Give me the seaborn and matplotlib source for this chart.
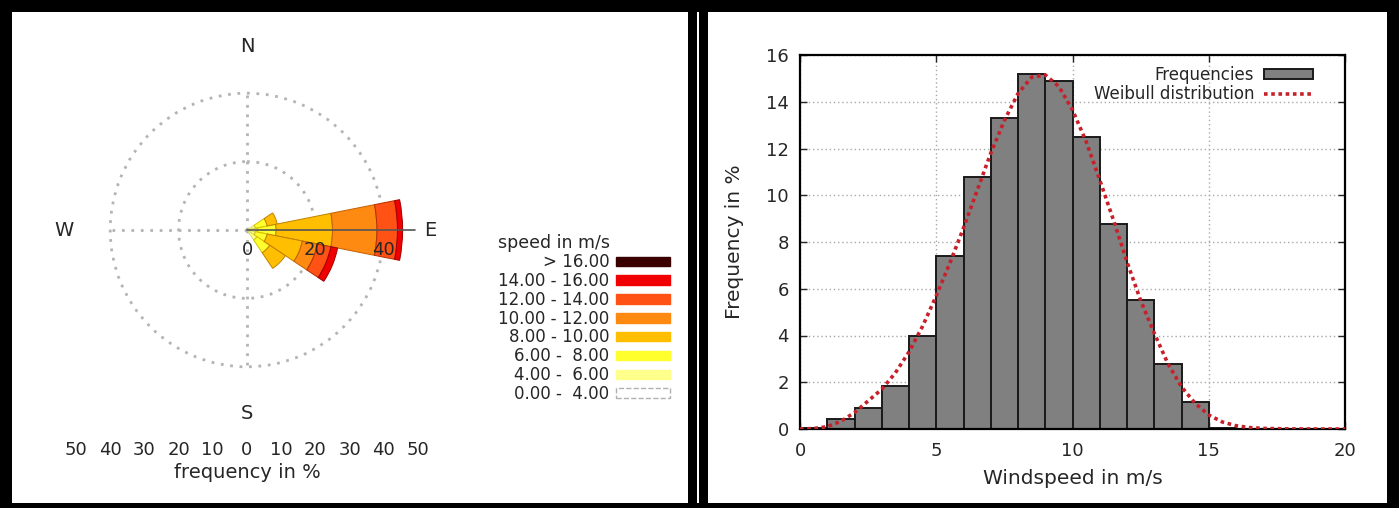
import numpy as np
import pandas as pd
import seaborn as sns
from matplotlib import pyplot as plt
from matplotlib.patches import Patch, Rectangle
from matplotlib.lines import Line2D

# ---- wind rose: frequency in % per direction, stacked by speed class ----
rose_directions = [67.5, 90.0, 112.5, 135.0]   # ENE, E, ESE, SE (compass degrees)
speed_classes = ['0.00 -  4.00', '4.00 -  6.00', '6.00 -  8.00', '8.00 - 10.00',
                 '10.00 - 12.00', '12.00 - 14.00', '14.00 - 16.00', '> 16.00']
speed_colors = ['#ffffff', '#ffff8c', '#ffff2e', '#ffbf00', '#ff8a12', '#ff5214', '#f00000', '#3a0000']
speed_edges = ['#b0b0b0', '#d8d860', '#d2c000', '#c08000', '#c06000', '#b03000', '#a00000', '#200000']
freq_0_4 = [0.5, 0.5, 0.5, 0.5]
freq_4_6 = [2.0, 2.5, 2.0, 3.0]
freq_6_8 = [3.5, 5.5, 3.5, 4.5]
freq_8_10 = [3.0, 16.5, 10.5, 5.5]
freq_10_12 = [0.0, 13.0, 4.5, 0.0]
freq_12_14 = [0.0, 6.0, 4.0, 0.0]
freq_14_16 = [0.0, 1.5, 2.0, 0.0]
freq_16_up = [0.0, 0.0, 0.0, 0.0]
rose_freq = [freq_0_4, freq_4_6, freq_6_8, freq_8_10, freq_10_12, freq_12_14, freq_14_16, freq_16_up]
rose_rings = [20, 40]
compass_labels = ['N', 'E', 'S', 'W']
scale_ticks = [-50, -40, -30, -20, -10, 0, 10, 20, 30, 40, 50]

# ---- histogram of wind speed (1 m/s bins) and fitted Weibull curve ----
bin_left = list(range(0, 20))
hist_freq = [0.05, 0.43, 0.9, 1.85, 4.0, 7.4, 10.8, 13.3, 15.2, 14.9,
             12.5, 8.75, 5.5, 2.8, 1.15, 0.05, 0.0, 0.0, 0.0, 0.0]
weibull_x = [0, 0.5, 1, 1.5, 2, 2.5, 3, 3.5, 4, 4.5, 5, 5.5, 6, 6.5, 7, 7.5, 8, 8.5, 9, 9.5,
             10, 10.5, 11, 11.5, 12, 12.5, 13, 13.5, 14, 14.5, 15, 15.5, 16, 16.5, 17, 18, 19, 20]
weibull_y = [0, 0.02, 0.1, 0.33, 0.7, 1.2, 1.7, 2.4, 3.3, 4.4, 5.7, 7.1, 8.6, 10.2, 11.8, 13.2, 14.35, 15.05, 15.15, 14.65,
             13.65, 12.3, 10.65, 8.95, 7.15, 5.5, 4.1, 2.8, 1.8, 1.1, 0.6, 0.3, 0.14, 0.06, 0.025, 0.003, 0, 0]

W, H = 1399, 508
TXT = '#262626'

sns.set_theme(style='white')
plt.rcParams['font.family'] = ['DejaVu Sans']

fig = plt.figure(figsize=(W / 100, H / 100), dpi=100)
fig.patch.set_facecolor('black')


def px(x0, y0, x1, y1):
    # pixel box (image coords, y down) -> figure fraction rect
    return [x0 / W, 1 - y1 / H, (x1 - x0) / W, (y1 - y0) / H]


for box in [(12, 12, 688, 503), (708, 12, 1387, 503), (697, 12, 699, 503)]:
    r = px(*box)
    fig.add_artist(Rectangle(r[:2], r[2], r[3], transform=fig.transFigure,
                             facecolor='white', edgecolor='none', zorder=-1))

# ---------------- wind rose ----------------
rmax = 41
pxs = 3.42  # pixels per percent
cx, cy = 247, 230
R = rmax * pxs
ax_r = fig.add_axes(px(cx - R, cy - R, cx + R, cy + R), projection='polar')
ax_r.set_theta_zero_location('N')
ax_r.set_theta_direction(-1)
ax_r.set_facecolor('none')
ax_r.spines['polar'].set_visible(False)

theta = np.radians(rose_directions)
bottom = np.zeros(len(theta))
for vals, fc, ec in zip(rose_freq, speed_colors, speed_edges):
    vals = np.asarray(vals)
    keep = vals > 0
    ax_r.bar(theta[keep], vals[keep], width=np.radians(22.5), bottom=bottom[keep],
             color=fc, edgecolor=ec, linewidth=0.7, clip_on=False, zorder=2)
    bottom += vals

ax_r.set_ylim(0, rmax)
ax_r.set_yticks(rose_rings)
ax_r.set_yticklabels([])
ax_r.set_xticks(np.radians([0, 90, 180, 270]))
ax_r.set_xticklabels(compass_labels)
ax_r.grid(True, color='#b4b4b4', linestyle=(0, (1, 2.4)), linewidth=2)
ax_r.tick_params(axis='x', pad=24, labelsize=14, labelcolor=TXT, length=0)
ax_r.tick_params(axis='y', length=0)
ax_r.axvline(np.pi / 2, ymin=0, ymax=49 / rmax, color='#555555', lw=1.2, clip_on=False, zorder=3)
for r in [0] + rose_rings:
    ax_r.annotate(str(r), xy=(np.pi / 2, r), xytext=(0, -20), textcoords='offset pixels',
                  ha='center', va='center', fontsize=13, color=TXT, annotation_clip=False, zorder=4)

# linear frequency scale under the rose
ax_s = fig.add_axes(px(cx - 50 * pxs, 434, cx + 50 * pxs, 435))
ax_s.set_xlim(-50, 50)
ax_s.set_xticks(scale_ticks)
ax_s.set_xticklabels([str(abs(t)) for t in scale_ticks])
ax_s.set_yticks([])
for sp in ax_s.spines.values():
    sp.set_visible(False)
ax_s.patch.set_visible(False)
ax_s.tick_params(axis='x', length=0, pad=4, labelsize=13, labelcolor=TXT)
ax_s.set_xlabel('frequency in %', fontsize=14, color=TXT, labelpad=3)

handles = []
for i, (lab, fc, ec) in enumerate(zip(speed_classes, speed_colors, speed_edges)):
    if i == 0:
        handles.append(Patch(facecolor=fc, edgecolor=ec, linestyle='--', label=lab))
    else:
        handles.append(Patch(facecolor=fc, edgecolor=fc, label=lab))
leg = fig.legend(handles=handles[::-1], title='speed in m/s', loc='upper left',
                 bbox_to_anchor=(490 / W, 1 - 226 / H), frameon=False, fontsize=12,
                 title_fontsize=12.5, markerfirst=False, alignment='left',
                 handlelength=3.2, handleheight=0.5, labelspacing=0.05,
                 borderpad=0, handletextpad=0.4)
for t in leg.get_texts():
    t.set_color(TXT)
leg.get_title().set_color(TXT)

# ---------------- histogram ----------------
ax_h = fig.add_axes(px(800, 55, 1345, 429))
ax_h.set_facecolor('white')
hist_df = pd.DataFrame({'speed': np.array(bin_left) + 0.5, 'freq': hist_freq})
sns.histplot(data=hist_df, x='speed', weights='freq', binwidth=1, binrange=(0, 20), color='#808080',
             edgecolor='#1a1a1a', linewidth=1.4, alpha=1, ax=ax_h, zorder=2)
sns.lineplot(x=weibull_x, y=weibull_y, ax=ax_h, color='#c8202a', linestyle=(0, (1, 1)),
             linewidth=2.6, zorder=3)

ax_h.set_xlim(0, 20)
ax_h.set_ylim(0, 16)
ax_h.set_xticks([0, 5, 10, 15, 20])
ax_h.set_yticks(range(0, 17, 2))
ax_h.set_axisbelow(True)
ax_h.grid(True, color='#a8a8a8', linestyle=(0, (1, 2)), linewidth=1)
for sp in ax_h.spines.values():
    sp.set_color('black')
    sp.set_linewidth(1.6)
ax_h.tick_params(direction='in', length=5, width=1, top=True, right=True, bottom=True, left=True,
                 labelsize=13, labelcolor=TXT)
ax_h.tick_params(axis='x', pad=9)
ax_h.tick_params(axis='y', pad=8)
ax_h.set_xlabel('Windspeed in m/s', fontsize=14.5, color=TXT, labelpad=7)
ax_h.set_ylabel('Frequency in %', fontsize=14.5, color=TXT, labelpad=16)

h_handles = [Patch(facecolor='#808080', edgecolor='#1a1a1a', linewidth=1.4, label='Frequencies'),
             Line2D([], [], color='#c8202a', linestyle=(0, (1, 1)), linewidth=2.6, label='Weibull distribution')]
leg2 = ax_h.legend(handles=h_handles, loc='upper right', bbox_to_anchor=((1321 - 800) / 545, (429 - 58) / 374),
                   frameon=False, fontsize=12, markerfirst=False, borderpad=0, labelspacing=0.05,
                   handlelength=2.9, handleheight=0.55, handletextpad=0.6)
for t in leg2.get_texts():
    t.set_color(TXT)

fig.savefig('out.png', dpi=100, facecolor=fig.get_facecolor())
